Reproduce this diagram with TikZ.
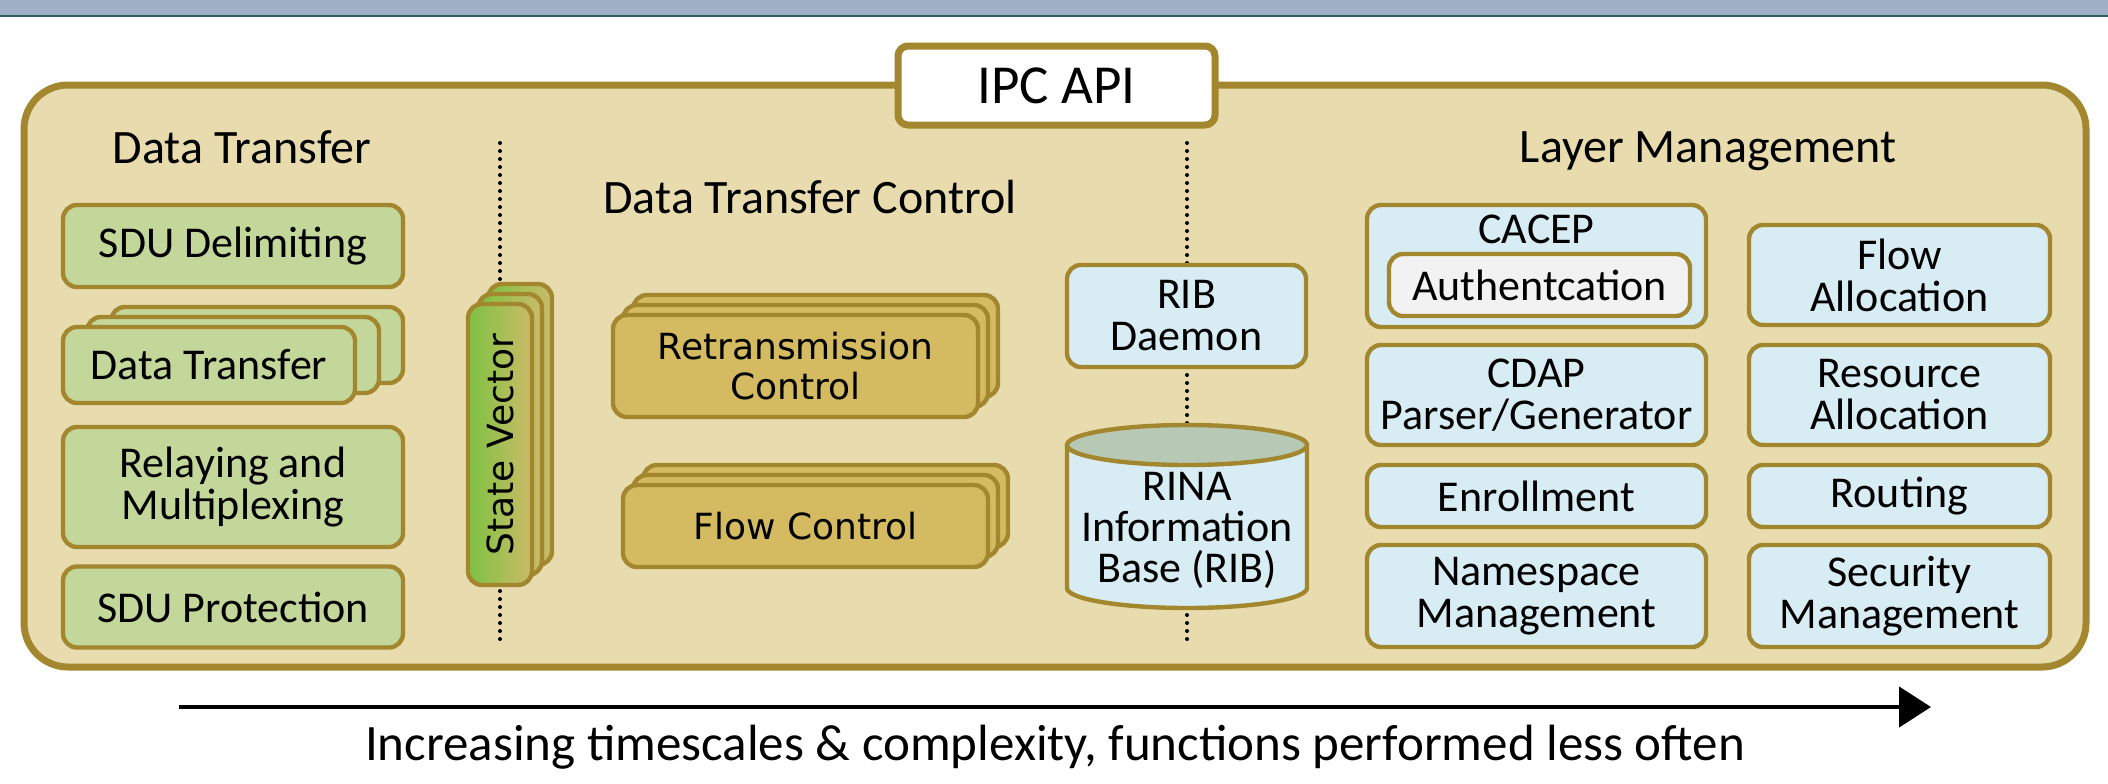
\documentclass[tikz,border=0pt]{standalone}
\usepackage{fontspec}
\setmainfont{Carlito}
\newfontfamily\dvs{DejaVu Sans}
\usetikzlibrary{arrows.meta}
\definecolor{gold}{HTML}{A2872E}
\definecolor{tanfill}{HTML}{E8DCAF}
\definecolor{gfill}{HTML}{C4D79B}
\definecolor{lblue}{HTML}{D7ECF3}
\definecolor{brownfill}{HTML}{D4BA60}
\definecolor{cyltop}{HTML}{B7C9B5}
\definecolor{svl}{HTML}{7DC242}
\definecolor{svr}{HTML}{CBBB68}
\definecolor{topbar}{HTML}{9FB1C7}
\definecolor{topline}{HTML}{2E5E62}
\definecolor{authfill}{HTML}{F2F2F2}
\tikzset{
  box/.style={draw=gold, line width=2.2pt, rounded corners=7pt, inner sep=0pt, align=center,
    font=\fontsize{22pt}{21pt}\selectfont},
  gbox/.style={box, fill=gfill},
  bbox/.style={box, fill=lblue},
  abox/.style={box, fill=authfill},
  cbox/.style={box, fill=brownfill, font=\dvs\fontsize{18pt}{20pt}\selectfont},
  svbox/.style={draw=gold, line width=2.2pt, rounded corners=7pt, left color=svl, right color=svr,
    inner sep=0pt, minimum width=32pt, minimum height=140.5pt},
  heading/.style={anchor=base, inner sep=0pt, font=\fontsize{24pt}{28pt}\selectfont},
  dotline/.style={line width=2pt, dash pattern=on 0pt off 4pt, line cap=round},
}
\begin{document}
\begin{tikzpicture}[x=0.5pt,y=-0.5pt]
\useasboundingbox (0,0) rectangle (2108,783);
% top bar
\fill[topbar] (0,0) rectangle (2108,15);
\draw[topline, line width=1pt] (0,15.5) -- (2108,15.5);
% container
\node[draw=gold, line width=3.5pt, fill=tanfill, rounded corners=22pt, inner sep=0pt,
  minimum width=1031pt, minimum height=291pt] (ipcp) at (1055,376) {};
\node[draw=gold, line width=3.5pt, fill=white, rounded corners=5pt, inner sep=0pt,
  minimum width=158.5pt, minimum height=39.5pt] (api) at (1056.5,85.5) {};
\node[anchor=base, inner sep=0pt, font=\fontsize{27.5pt}{30pt}\selectfont] (apit) at (1056.5,103) {IPC API};
% dotted separators
\coordinate (d1a) at (500,143); \coordinate (d1b) at (500,643);
\coordinate (d2a) at (1187,143); \coordinate (d2b) at (1187,643);
\draw[dotline] (d1a) -- (d1b);
\draw[dotline] (d2a) -- (d2b);
% headings
\node[heading] (h1) at (242,163) {Data Transfer};
\node[heading] (h2) at (810,213) {Data Transfer Control};
\node[heading] (h3) at (1708,162) {Layer Management};
% data transfer column
\node[gbox, minimum width=170pt, minimum height=41pt] (sdu) at (233,246) {SDU Delimiting};
\node[gbox, minimum width=146pt, minimum height=38pt] (dt3) at (257,345) {};
\node[gbox, minimum width=146pt, minimum height=38pt] (dt2) at (233,355) {};
\node[gbox, minimum width=146pt, minimum height=38pt] (dt1) at (209,365) {Data Transfer};
\node[gbox, minimum width=170pt, minimum height=60pt] (relay) at (233,487) {Relaying and\\Multiplexing};
\node[gbox, minimum width=170pt, minimum height=40.5pt] (prot) at (233,607) {SDU Protection};
% state vector
\node[svbox] (sv3) at (520,424.5) {};
\node[svbox] (sv2) at (510,434.5) {};
\node[svbox] (sv1) at (500,444.5) {};
\node[rotate=90, inner sep=0pt, font=\dvs\fontsize{18pt}{20pt}\selectfont] (svt) at (sv1.center) {State Vector};
% data transfer control
\node[cbox, minimum width=182.5pt, minimum height=51pt] (rt3) at (815.5,346) {};
\node[cbox, minimum width=182.5pt, minimum height=51pt] (rt2) at (805.5,356) {};
\node[cbox, minimum width=182.5pt, minimum height=51pt] (rt1) at (795.5,366) {Retransmission\\Control};
\node[cbox, minimum width=182.5pt, minimum height=41pt] (fc3) at (825.5,506) {};
\node[cbox, minimum width=182.5pt, minimum height=41pt] (fc2) at (815.5,516) {};
\node[cbox, minimum width=182.5pt, minimum height=41pt] (fc1) at (805.5,526) {Flow Control};
% RIB
\node[bbox, minimum width=119.5pt, minimum height=51pt] (ribd) at (1186.5,316) {RIB\\Daemon};
\fill[lblue] (1067,445) -- (1067,588) arc[start angle=180, end angle=360, x radius=60pt, y radius=10pt] -- (1307,445) -- cycle;
\draw[gold, line width=2.2pt] (1067,445) -- (1067,588) arc[start angle=180, end angle=360, x radius=60pt, y radius=10pt] -- (1307,445);
\draw[gold, line width=2.2pt, fill=cyltop] (1187,445) ellipse[x radius=60pt, y radius=10pt];
\node[align=center, inner sep=0pt, font=\fontsize{22pt}{20.5pt}\selectfont] (rib) at (1187,530) {RINA\\Information\\Base (RIB)};
% layer management
\node[bbox, minimum width=169.5pt, minimum height=61pt] (cacep) at (1536.5,266) {};
\node[anchor=base, inner sep=0pt, font=\fontsize{22pt}{21pt}\selectfont] (cacept) at (1536.5,243) {CACEP};
\node[abox, minimum width=150.5pt, minimum height=31pt] (auth) at (1539.5,285) {Authentcation};
\node[bbox, minimum width=150.5pt, minimum height=50pt] (flowa) at (1899.5,275) {Flow\\Allocation};
\node[bbox, minimum width=169.5pt, minimum height=50pt] (cdap) at (1536.5,395) {CDAP\\Parser/Generator};
\node[bbox, minimum width=150.5pt, minimum height=50pt] (resa) at (1899.5,395) {Resource\\Allocation};
\node[bbox, minimum width=169.5pt, minimum height=31pt] (enr) at (1536.5,496) {Enrollment};
\node[bbox, minimum width=150.5pt, minimum height=31pt] (rout) at (1899.5,496) {Routing};
\node[bbox, minimum width=169.5pt, minimum height=51pt] (nsm) at (1536.5,596) {Namespace\\Management};
\node[bbox, minimum width=150.5pt, minimum height=51pt] (secm) at (1899.5,596) {Security\\Management};
% arrow
\coordinate (as) at (179,707);
\coordinate (ae) at (1931,707);
\draw[line width=2.3pt, -{Triangle[length=16pt,width=20pt]}] (as) -- (ae);
\node[anchor=base, inner sep=0pt, font=\fontsize{25.5pt}{28pt}\selectfont] (cap) at (1055,760)
  {Increasing timescales \& complexity, functions performed less often};
\end{tikzpicture}
\end{document}
